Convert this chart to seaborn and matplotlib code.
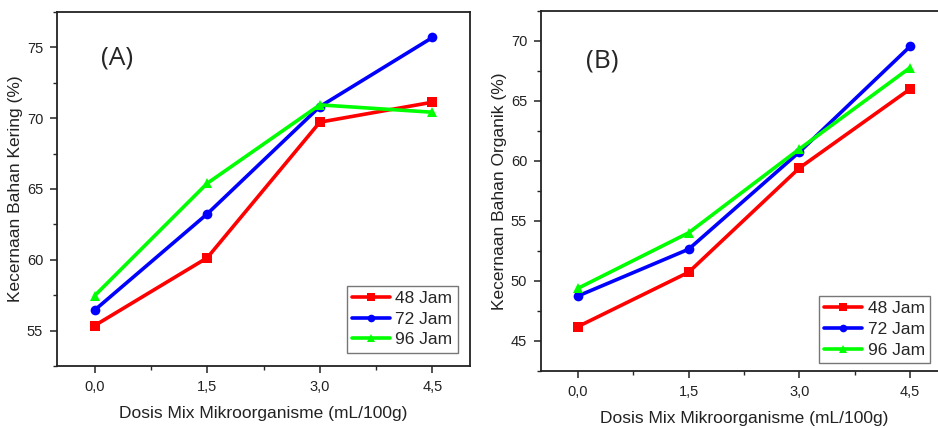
import numpy as np
import pandas as pd
import matplotlib
matplotlib.use("Agg")
import matplotlib.pyplot as plt
import seaborn as sns
from matplotlib.ticker import MultipleLocator, FixedLocator

sns.set_style("ticks")
plt.rcParams['font.family'] = ['Liberation Sans', 'DejaVu Sans']

# --- data ---
dosis = [0.0, 1.5, 3.0, 4.5]
dosis_labels = ["0,0", "1,5", "3,0", "4,5"]
waktu = ["48 Jam", "72 Jam", "96 Jam"]

kering_48 = [55.35, 60.14, 69.72, 71.13]
kering_72 = [56.44, 63.24, 70.82, 75.70]
kering_96 = [57.46, 65.40, 70.94, 70.42]

organik_48 = [46.20, 50.73, 59.42, 66.00]
organik_72 = [48.75, 52.65, 60.75, 69.55]
organik_96 = [49.39, 54.02, 61.00, 67.78]

warna = {"48 Jam": "#FF0000", "72 Jam": "#0000FF", "96 Jam": "#00FF00"}
penanda = {"48 Jam": "s", "72 Jam": "o", "96 Jam": "^"}


def long_df(a, b, c):
    rows = []
    for w, vals in zip(waktu, [a, b, c]):
        for x, v in zip(dosis, vals):
            rows.append({"Dosis": x, "Nilai": v, "Waktu": w})
    return pd.DataFrame(rows)


df_kering = long_df(kering_48, kering_72, kering_96)
df_organik = long_df(organik_48, organik_72, organik_96)

fig = plt.figure(figsize=(9.38, 4.28), dpi=100)
ax1 = fig.add_axes([0.0608, 0.1449, 0.4403, 0.8271])
ax2 = fig.add_axes([0.5768, 0.1332, 0.4328, 0.8411])


def gambar(ax, df, ylim, ymajor, ylabel, panel, ppos, leg_anchor):
    sns.lineplot(data=df, x="Dosis", y="Nilai", hue="Waktu", style="Waktu",
                 palette=warna, markers=penanda, dashes=False, ax=ax,
                 linewidth=2.6, markersize=7, markeredgewidth=0)
    ax.set_xlim(-0.5, 5.0)
    ax.set_ylim(*ylim)
    ax.xaxis.set_major_locator(FixedLocator(dosis))
    ax.set_xticklabels(dosis_labels)
    ax.xaxis.set_minor_locator(MultipleLocator(0.75))
    ax.yaxis.set_major_locator(MultipleLocator(ymajor))
    ax.yaxis.set_minor_locator(MultipleLocator(ymajor / 2))
    ax.tick_params(which="major", direction="out", length=5, width=1.1,
                   labelsize=10.5, colors="#222222", pad=5)
    ax.tick_params(which="minor", direction="out", length=3, width=1.0)
    for s in ax.spines.values():
        s.set_visible(True)
        s.set_linewidth(1.3)
        s.set_color("#222222")
    ax.set_xlabel("Dosis Mix Mikroorganisme (mL/100g)", fontsize=12.5,
                  color="#222222", labelpad=9)
    ax.set_ylabel(ylabel, fontsize=12.5, color="#222222", labelpad=3)
    ax.text(ppos[0], ppos[1], panel, transform=ax.transAxes, fontsize=19,
            ha="center", va="center", family=["Open Sans", "DejaVu Sans"])
    h, l = ax.get_legend_handles_labels()
    for hh in h:
        hh.set_markersize(5.5)
    leg = ax.legend(h, l, loc="lower right", bbox_to_anchor=leg_anchor,
                    fontsize=12.5, frameon=True, fancybox=False,
                    handlelength=2.2, handletextpad=0.3, borderpad=0.3,
                    labelspacing=0.32, borderaxespad=0.0)
    leg.get_frame().set_edgecolor("#555555")
    leg.get_frame().set_linewidth(1.0)


gambar(ax1, df_kering, (52.5, 77.5), 5, "Kecernaan Bahan Kering (%)",
       "(A)", (0.145, 0.87), (0.97, 0.038))
gambar(ax2, df_organik, (42.5, 72.5), 5, "Kecernaan Bahan Organik (%)",
       "(B)", (0.152, 0.86), (0.958, 0.022))

fig.savefig("out.png", dpi=100)
